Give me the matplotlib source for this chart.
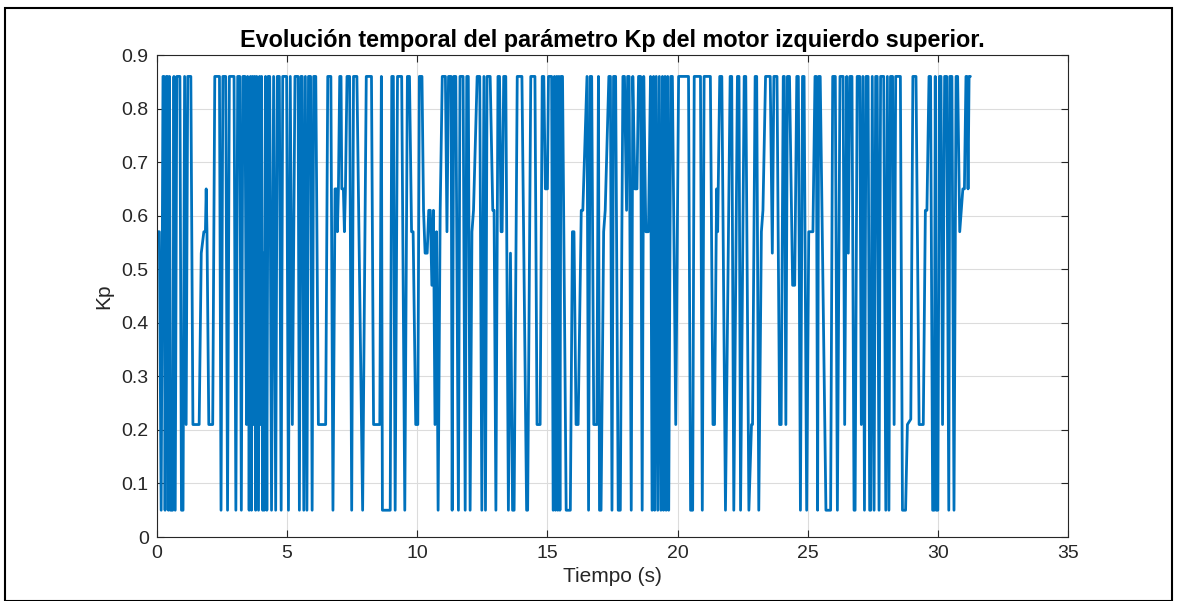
import matplotlib
matplotlib.use("Agg")
import matplotlib.pyplot as plt
from matplotlib.patches import Rectangle

# Kp of the upper-left motor over time (breakpoints of the logged signal)
t_s = [
    0.00, 0.09, 0.16, 0.23, 0.27, 0.31, 0.36, 0.40, 0.44, 0.48, 0.52, 0.60, 0.65, 0.70, 0.76, 0.88,
    0.94, 1.00, 1.06, 1.12, 1.18, 1.30, 1.38, 1.62, 1.70, 1.80, 1.86, 1.89, 1.92, 1.99, 2.14, 2.22,
    2.40, 2.46, 2.53, 2.64, 2.71, 2.78, 2.96,
    3.03, 3.10, 3.18, 3.24, 3.30, 3.38, 3.44, 3.48, 3.51, 3.54, 3.59, 3.63, 3.67, 3.71, 3.75, 3.79,
    3.83, 3.87, 3.90, 3.94, 3.98, 4.02, 4.06, 4.09, 4.12, 4.17, 4.22, 4.27, 4.33, 4.40, 4.48, 4.56,
    4.62, 4.70, 4.77, 4.83, 4.98, 5.05, 5.12, 5.20, 5.30, 5.42, 5.47, 5.53, 5.58, 5.64, 5.70, 5.76,
    5.82, 5.90, 5.96, 6.02, 6.10, 6.20,
    6.48, 6.56, 6.68, 6.76, 6.84, 6.90, 6.93, 6.97, 7.02, 7.07, 7.10, 7.16, 7.20, 7.24, 7.30, 7.40,
    7.48, 7.55, 7.68, 7.90, 8.04, 8.24, 8.32, 8.56, 8.62, 8.66, 8.96, 9.02, 9.08, 9.15, 9.24, 9.40,
    9.52,
    9.62, 9.70, 9.78, 9.84, 9.94, 10.02, 10.08, 10.18, 10.24, 10.30, 10.38, 10.44, 10.50, 10.56,
    10.62, 10.68, 10.74, 10.80, 10.88, 10.96, 11.08, 11.14, 11.20, 11.30, 11.34, 11.40, 11.48,
    11.58, 11.64, 11.76, 11.84, 11.90, 11.96, 12.03, 12.10, 12.16, 12.30, 12.40, 12.48, 12.56,
    12.62, 12.68, 12.74,
    12.80, 12.90, 12.95, 13.02, 13.10, 13.16, 13.22, 13.26, 13.32, 13.40, 13.50, 13.58, 13.66,
    13.72, 13.84, 14.02, 14.20, 14.24, 14.36, 14.52, 14.60, 14.72, 14.80, 14.86, 14.92, 15.00,
    15.04, 15.16, 15.22, 15.27, 15.31, 15.36, 15.40, 15.44, 15.48, 15.52, 15.58, 15.72, 15.88,
    15.96, 16.02,
    16.10, 16.18, 16.30, 16.36, 16.52, 16.58, 16.64, 16.70, 16.78, 16.90, 16.96, 17.00, 17.06,
    17.16, 17.22, 17.36, 17.42, 17.48, 17.54, 17.62, 17.72, 17.80, 17.86, 17.90, 17.96, 18.04,
    18.08, 18.14, 18.22, 18.28, 18.36, 18.44, 18.50, 18.58, 18.64, 18.70, 18.78, 18.88, 18.96,
    19.02, 19.08, 19.12, 19.18, 19.24, 19.30, 19.36,
    19.42, 19.46, 19.52, 19.56, 19.62, 19.66, 19.74, 19.80, 19.93, 20.04, 20.42, 20.50, 20.58,
    20.64, 20.88, 20.95, 21.02, 21.26, 21.36, 21.42, 21.50, 21.54, 21.62, 21.70, 21.84, 22.02,
    22.08, 22.16, 22.30, 22.36, 22.42, 22.56, 22.62,
    22.74, 22.84, 22.88, 22.98, 23.04, 23.12, 23.22, 23.28, 23.38, 23.56, 23.64, 23.70, 23.82,
    23.92, 23.98, 24.06, 24.10, 24.16, 24.22, 24.30, 24.42, 24.50, 24.58, 24.64, 24.72, 24.80,
    24.86, 24.96, 25.04, 25.20, 25.28, 25.33, 25.38, 25.42, 25.48, 25.70, 25.88,
    25.96, 26.06, 26.14, 26.24, 26.36, 26.42, 26.50, 26.56, 26.62, 26.70, 26.78, 26.82, 26.90,
    27.00, 27.06, 27.12, 27.18, 27.24, 27.32, 27.38, 27.42, 27.48, 27.55, 27.61, 27.67, 27.74,
    27.80, 27.92, 28.00, 28.06, 28.12, 28.18, 28.26, 28.32, 28.38, 28.56, 28.64, 28.76, 28.83,
    28.96, 29.04, 29.16,
    29.28, 29.44, 29.52, 29.58, 29.66, 29.72, 29.80, 29.86, 29.90, 29.94, 30.00, 30.06, 30.12,
    30.18, 30.26, 30.34, 30.42, 30.46, 30.54, 30.62, 30.70, 30.76, 30.84, 30.90, 30.96, 31.02,
    31.08, 31.12, 31.16, 31.20, 31.25,
]

kp = [
    0.57, 0.57, 0.05, 0.86, 0.86, 0.05, 0.86, 0.86, 0.05, 0.86, 0.05, 0.05, 0.86, 0.05, 0.86, 0.86,
    0.05, 0.05, 0.86, 0.21, 0.86, 0.86, 0.21, 0.21, 0.53, 0.57, 0.57, 0.65, 0.57, 0.21, 0.21, 0.86,
    0.86, 0.05, 0.86, 0.86, 0.05, 0.86, 0.86,
    0.05, 0.86, 0.86, 0.05, 0.86, 0.86, 0.21, 0.86, 0.57, 0.05, 0.86, 0.05, 0.86, 0.21, 0.86, 0.05,
    0.86, 0.40, 0.05, 0.86, 0.21, 0.86, 0.05, 0.53, 0.05, 0.86, 0.05, 0.86, 0.86, 0.05, 0.86, 0.05,
    0.86, 0.86, 0.05, 0.86, 0.86, 0.05, 0.86, 0.21, 0.86, 0.86, 0.05, 0.86, 0.86, 0.05, 0.86, 0.05,
    0.86, 0.86, 0.05, 0.86, 0.86, 0.21,
    0.21, 0.86, 0.86, 0.05, 0.65, 0.65, 0.57, 0.65, 0.86, 0.86, 0.65, 0.65, 0.57, 0.65, 0.86, 0.86,
    0.05, 0.86, 0.86, 0.05, 0.86, 0.86, 0.21, 0.21, 0.86, 0.05, 0.05, 0.86, 0.86, 0.05, 0.86, 0.86,
    0.05,
    0.86, 0.86, 0.57, 0.57, 0.21, 0.21, 0.86, 0.86, 0.61, 0.53, 0.53, 0.61, 0.61, 0.47,
    0.61, 0.21, 0.57, 0.05, 0.61, 0.86, 0.86, 0.57, 0.86, 0.86, 0.05, 0.86, 0.86,
    0.05, 0.86, 0.86, 0.05, 0.86, 0.86, 0.05, 0.57, 0.61, 0.86, 0.86, 0.05, 0.86,
    0.05, 0.86, 0.86,
    0.86, 0.61, 0.61, 0.05, 0.86, 0.86, 0.57, 0.57, 0.86, 0.86, 0.05, 0.53, 0.05,
    0.05, 0.86, 0.86, 0.05, 0.05, 0.86, 0.86, 0.21, 0.21, 0.86, 0.86, 0.65, 0.65,
    0.86, 0.86, 0.05, 0.86, 0.05, 0.86, 0.05, 0.86, 0.05, 0.86, 0.86, 0.05, 0.05,
    0.57, 0.57,
    0.21, 0.21, 0.61, 0.61, 0.86, 0.05, 0.86, 0.86, 0.21, 0.21, 0.86, 0.05, 0.05,
    0.57, 0.61, 0.86, 0.86, 0.05, 0.86, 0.86, 0.05, 0.05, 0.57, 0.86, 0.86, 0.61,
    0.86, 0.86, 0.05, 0.86, 0.65, 0.65, 0.86, 0.86, 0.05, 0.86, 0.57, 0.57, 0.86,
    0.05, 0.86, 0.05, 0.86, 0.05, 0.86, 0.05,
    0.86, 0.05, 0.86, 0.05, 0.86, 0.05, 0.86, 0.86, 0.21, 0.86, 0.86, 0.05, 0.05,
    0.86, 0.86, 0.05, 0.86, 0.86, 0.21, 0.21, 0.65, 0.57, 0.86, 0.86, 0.05, 0.86,
    0.86, 0.05, 0.86, 0.86, 0.05, 0.86, 0.86,
    0.05, 0.21, 0.21, 0.86, 0.86, 0.05, 0.57, 0.61, 0.86, 0.86, 0.53, 0.86, 0.86,
    0.21, 0.21, 0.86, 0.86, 0.21, 0.86, 0.86, 0.47, 0.47, 0.86, 0.86, 0.05, 0.86,
    0.86, 0.05, 0.57, 0.57, 0.86, 0.86, 0.05, 0.86, 0.86, 0.05, 0.05,
    0.86, 0.86, 0.05, 0.86, 0.86, 0.21, 0.86, 0.53, 0.86, 0.86, 0.05, 0.05, 0.86,
    0.86, 0.21, 0.86, 0.05, 0.86, 0.86, 0.05, 0.05, 0.86, 0.05, 0.86, 0.86, 0.05,
    0.86, 0.86, 0.05, 0.86, 0.05, 0.86, 0.86, 0.21, 0.86, 0.86, 0.05, 0.05, 0.21,
    0.22, 0.86, 0.86,
    0.21, 0.21, 0.61, 0.61, 0.86, 0.86, 0.05, 0.05, 0.86, 0.05, 0.05, 0.86, 0.86,
    0.21, 0.86, 0.86, 0.05, 0.86, 0.86, 0.05, 0.86, 0.86, 0.57, 0.61, 0.65, 0.65,
    0.86, 0.86, 0.65, 0.86, 0.86,
]

x_ticks = [0, 5, 10, 15, 20, 25, 30, 35]
y_ticks = [0, 0.1, 0.2, 0.3, 0.4, 0.5, 0.6, 0.7, 0.8, 0.9]

plt.rcParams["font.family"] = ["Liberation Sans", "DejaVu Sans"]

W, H = 1179, 601
fig = plt.figure(figsize=(W / 100, H / 100), dpi=100)
fig.patch.set_facecolor("white")

# outer frame around the figure
fig.add_artist(Rectangle((5 / W, 0.0), 1167 / W, 593 / H,
                         transform=fig.transFigure, fill=False,
                         edgecolor="black", linewidth=1.5))

ax = fig.add_axes([157 / W, 1 - 537 / H, (1068 - 157) / W, (537 - 55) / H])
ax.plot(t_s, kp, color="#0072BD", linewidth=2.0, solid_joinstyle="round",
        solid_capstyle="round")

ax.set_xlim(0, 35)
ax.set_ylim(0, 0.9)
ax.set_xticks(x_ticks)
ax.set_yticks(y_ticks)
ax.set_xticklabels([str(v) for v in x_ticks])
ax.set_yticklabels(["0" if v == 0 else f"{v:.1f}" for v in y_ticks])

ax.grid(True, color="#dcdcdc", linewidth=0.8)
ax.set_axisbelow(True)
for s in ax.spines.values():
    s.set_color("#262626")
    s.set_linewidth(0.8)
ax.tick_params(direction="in", length=5, width=0.8, colors="#262626",
               labelsize=14, top=True, right=True, labeltop=False, labelright=False,
               pad=6)

ax.set_xlabel("Tiempo (s)", fontsize=15, color="#262626", labelpad=3)
ax.set_ylabel("Kp", fontsize=15, color="#262626", labelpad=6)
ax.set_title("Evolución temporal del parámetro Kp del motor izquierdo superior.",
             fontsize=16.8, fontweight="bold", color="black", pad=6)

fig.savefig("out.png", dpi=100, facecolor="white")
